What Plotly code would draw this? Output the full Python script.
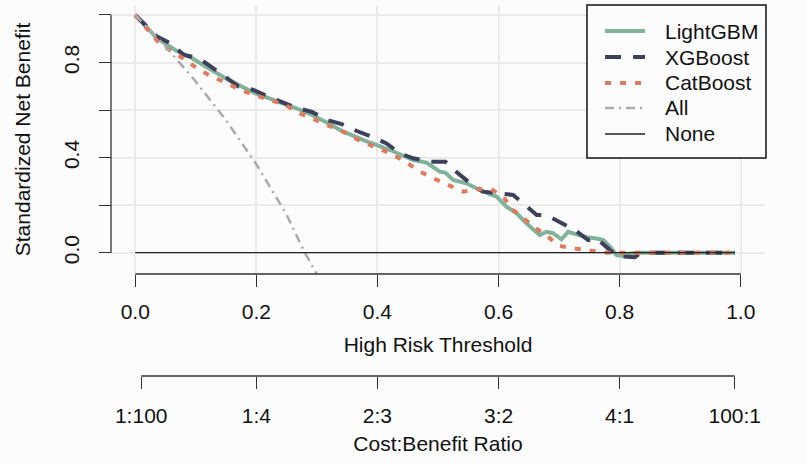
import plotly.graph_objects as go

# ---- data ----
lgb_x = [0, 0.036, 0.066, 0.094, 0.121, 0.154, 0.198, 0.237, 0.281, 0.314, 0.344, 0.377, 0.401, 0.421,
         0.440, 0.459, 0.481, 0.503, 0.512, 0.525, 0.547, 0.563, 0.586, 0.597, 0.613, 0.630, 0.646,
         0.668, 0.679, 0.690, 0.704, 0.715, 0.726, 0.745, 0.762, 0.773, 0.784, 0.795, 0.806, 0.814,
         0.828, 0.99]
lgb_y = [1.0, 0.902, 0.853, 0.818, 0.776, 0.727, 0.671, 0.635, 0.593, 0.551, 0.509, 0.474, 0.453, 0.432,
         0.411, 0.390, 0.379, 0.341, 0.337, 0.306, 0.292, 0.271, 0.246, 0.236, 0.194, 0.166, 0.124,
         0.074, 0.088, 0.082, 0.056, 0.088, 0.079, 0.065, 0.060, 0.053, 0.025, -0.010, -0.014, -0.005,
         0.0, 0.0]

xgb_x = [0, 0.022, 0.036, 0.058, 0.080, 0.105, 0.129, 0.149, 0.170, 0.195, 0.220, 0.243, 0.267, 0.292,
         0.317, 0.341, 0.366, 0.391, 0.415, 0.437, 0.459, 0.487, 0.512, 0.533, 0.553, 0.574, 0.597,
         0.624, 0.644, 0.663, 0.679, 0.704, 0.726, 0.748, 0.762, 0.784, 0.797, 0.825, 0.835, 0.99]
xgb_y = [1.0, 0.944, 0.909, 0.881, 0.832, 0.818, 0.778, 0.740, 0.700, 0.685, 0.656, 0.635, 0.609, 0.592,
         0.558, 0.541, 0.512, 0.488, 0.460, 0.418, 0.397, 0.383, 0.383, 0.334, 0.293, 0.257, 0.251,
         0.243, 0.200, 0.159, 0.159, 0.124, 0.095, 0.053, 0.060, 0.011, -0.014, -0.019, 0.0, 0.0]

cat_x = [0, 0.020, 0.040, 0.079, 0.102, 0.127, 0.149, 0.173, 0.198, 0.223, 0.248, 0.272, 0.297, 0.343,
         0.371, 0.396, 0.421, 0.446, 0.468, 0.492, 0.517, 0.542, 0.563, 0.588, 0.608, 0.622, 0.639,
         0.658, 0.674, 0.701, 0.726, 0.754, 0.780, 0.99]
cat_y = [1.0, 0.940, 0.880, 0.818, 0.776, 0.740, 0.717, 0.684, 0.663, 0.642, 0.621, 0.586, 0.558, 0.509,
         0.471, 0.446, 0.418, 0.383, 0.345, 0.313, 0.285, 0.257, 0.267, 0.267, 0.236, 0.183, 0.151,
         0.109, 0.082, 0.028, 0.018, 0.007, 0.0, 0.0]

all_x = [0, 0.05, 0.10, 0.15, 0.20, 0.25, 0.28, 0.30, 0.32]
all_y = [1.0, 0.868, 0.720, 0.557, 0.372, 0.160, 0.0, -0.090, -0.180]

none_x = [0, 0.99]
none_y = [0, 0]

series_names = ["LightGBM", "XGBoost", "CatBoost", "All", "None"]

x_ticks = [0, 0.2, 0.4, 0.6, 0.8, 1.0]
x_ticklabels = ["0.0", "0.2", "0.4", "0.6", "0.8", "1.0"]
y_ticks = [0, 0.2, 0.4, 0.6, 0.8, 1.0]
y_ticklabels = ["0.0", "", "0.4", "", "0.8", ""]
cb_ticks = [1 / 101, 0.2, 0.4, 0.6, 0.8, 100 / 101]
cb_ticklabels = ["1:100", "1:4", "2:3", "3:2", "4:1", "100:1"]

# ---- style ----
FONT = "Liberation Sans, Arial, sans-serif"
FS = 21
AX = "#333333"
BG = "#fcfcfc"
TXT = "#111111"
YDOM = [0.2749, 1.0]
TF = dict(family=FONT, size=FS, color=TXT)

styles = [
    dict(color="#81B29A", width=4),
    dict(color="#3D405B", width=4, dash="16px,12px"),
    dict(color="#E07A5F", width=4, dash="6px,9px"),
    dict(color="#aaaaaa", width=2.5, dash="9px,5px,2px,5px"),
    dict(color="#222222", width=1.3),
]
xs = [lgb_x, xgb_x, cat_x, all_x, none_x]
ys = [lgb_y, xgb_y, cat_y, all_y, none_y]

fig = go.Figure()
for name, sx, sy, st in zip(series_names, xs, ys, styles):
    fig.add_trace(go.Scatter(x=sx, y=sy, mode="lines", name=name, line=st, showlegend=False))

# invisible carrier so the cost:benefit axis is rendered
fig.add_trace(go.Scatter(x=cb_ticks, y=[None] * len(cb_ticks), xaxis="x2", yaxis="y",
                         mode="lines", showlegend=False, hoverinfo="skip"))

common = dict(automargin=False, zeroline=False, showline=False, ticks="outside", ticklen=12,
              tickwidth=1.3, tickcolor=AX, tickfont=TF)

fig.update_layout(
    width=807, height=464,
    margin=dict(l=111, r=42, t=5, b=88),
    paper_bgcolor=BG, plot_bgcolor=BG,
    font=TF,
    showlegend=False,
    xaxis=dict(range=[-0.04, 1.04], tickvals=x_ticks, ticktext=x_ticklabels,
               showgrid=True, gridcolor="#ebebeb", gridwidth=1.5,
               anchor="free", position=YDOM[0], ticklabelstandoff=7,
               title=dict(text="High Risk Threshold", standoff=15, font=TF), **common),
    yaxis=dict(range=[-0.0896, 1.042], domain=YDOM, tickvals=y_ticks, ticktext=y_ticklabels,
               showgrid=True, gridcolor="#ebebeb", gridwidth=1.5,
               anchor="free", position=0, tickangle=-90, ticklabelstandoff=12,
               title=dict(text="Standardized Net Benefit", standoff=22, font=TF), **common),
    xaxis2=dict(range=[-0.04, 1.04], overlaying="x", anchor="free", position=0, side="bottom",
                tickvals=cb_ticks, ticktext=cb_ticklabels, showgrid=False, ticklabelstandoff=9,
                title=dict(text="Cost:Benefit Ratio", standoff=10, font=TF), **common),
)

# R-style axis lines spanning only the tick range
fig.add_shape(type="line", xref="x", yref="y domain", x0=x_ticks[0], x1=x_ticks[-1], y0=0, y1=0,
              line=dict(color=AX, width=1.3))
fig.add_shape(type="line", xref="x domain", yref="y", x0=0, x1=0, y0=y_ticks[0], y1=y_ticks[-1],
              line=dict(color=AX, width=1.3))
fig.add_shape(type="line", xref="x", yref="paper", x0=cb_ticks[0], x1=cb_ticks[-1], y0=0, y1=0,
              line=dict(color=AX, width=1.3))

# R-style legend box (paper coordinates)
leg_x0, leg_x1, leg_y0, leg_y1 = 0.7278, 1.0015, 0.5876, 1.0
samp_x0, samp_x1, text_x = 0.7554, 0.8165, 0.844
row_y = [0.9299, 0.8598, 0.7898, 0.7224, 0.6523]
fig.add_shape(type="rect", xref="paper", yref="paper", x0=leg_x0, x1=leg_x1, y0=leg_y0, y1=leg_y1,
              line=dict(color=TXT, width=1.5), fillcolor=BG, layer="above")
for name, st, ry in zip(series_names, styles, row_y):
    fig.add_shape(type="line", xref="paper", yref="paper", x0=samp_x0, x1=samp_x1, y0=ry, y1=ry,
                  line=st, layer="above")
    fig.add_annotation(xref="paper", yref="paper", x=text_x, y=ry, text=name, showarrow=False,
                       xanchor="left", yanchor="middle", font=TF)

fig.write_html("out.html", config={"displayModeBar": False},
               post_script="document.body.style.margin='0px';document.body.style.overflow='hidden';")
